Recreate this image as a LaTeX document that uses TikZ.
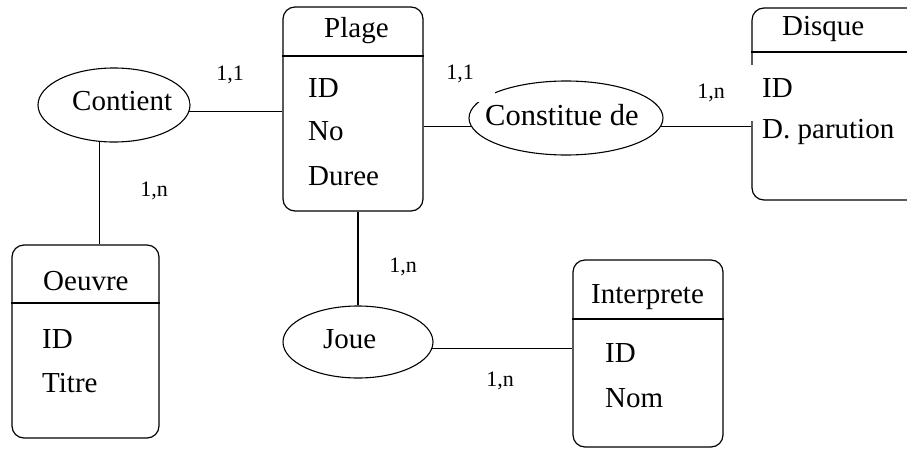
\documentclass[tikz,border=0pt]{standalone}
\usepackage{fontspec}
\setmainfont{Liberation Serif}
\usetikzlibrary{shapes.geometric}
\begin{document}
\begin{tikzpicture}[x=1pt,y=-1pt,
  ln/.style={line width=1.2pt},
  ent/.style={draw, line width=1.2pt, rounded corners=12pt, inner sep=0pt},
  rel/.style={draw, ellipse, line width=1.1pt, inner sep=0pt},
  txt/.style={anchor=base west, inner sep=0pt, font=\fontsize{29}{34}\selectfont},
  card/.style={fill=white, inner sep=0pt, minimum width=80pt, minimum height=56pt, font=\fontsize{22}{26}\selectfont}]
\useasboundingbox (0,0) rectangle (907,450);
\clip (0,0) rectangle (907,450);
% entity under the card
\node[ent, minimum width=173pt, minimum height=192pt] (disque) at (838.5,104) {};
\draw[ln] (disque.west |- 0,52) -- (disque.east |- 0,52);
\node[txt] (disqueT) at (782,35) {Disque};
\node[txt] (disqueA) at (762,97) {ID};
\node[txt] (disqueB) at (762,138) {D. parution};
% entities
\node[ent, minimum width=140pt, minimum height=204pt] (plage) at (353,109) {};
\draw[ln] (plage.west |- 0,56) -- (plage.east |- 0,56);
\node[txt] (plageT) at (324,37) {Plage};
\node[txt] (plageA) at (308,97) {ID};
\node[txt] (plageB) at (308,140) {No};
\node[txt] (plageC) at (308,185) {Duree};
\node[ent, minimum width=147pt, minimum height=193pt] (oeuvre) at (85.5,341.5) {};
\draw[ln] (oeuvre.west |- 0,303) -- (oeuvre.east |- 0,303);
\node[txt] (oeuvreT) at (43,290) {Oeuvre};
\node[txt] (oeuvreA) at (42,348) {ID};
\node[txt] (oeuvreB) at (42,392) {Titre};
\node[ent, minimum width=150pt, minimum height=187pt] (interp) at (648,353.5) {};
\draw[ln] (interp.west |- 0,319) -- (interp.east |- 0,319);
\node[txt] (interpT) at (591,303) {Interprete};
\node[txt] (interpA) at (605,362) {ID};
\node[txt] (interpB) at (605,407) {Nom};
% relations
\node[rel, minimum width=152pt, minimum height=74pt] (contient) at (114,105) {};
\node[txt] (contientT) at (72,110) {Contient};
\node[rel, minimum width=194pt, minimum height=74pt] (constitue) at (566,118) {};
\node[txt, font=\fontsize{30.5}{35}\selectfont] (constitueT) at (485,125) {Constitue de};
\node[rel, minimum width=150pt, minimum height=72pt] (joue) at (358,342) {};
\node[txt] (joueT) at (323,348) {Joue};
% connectors
\draw[ln] (contient.-5) -- (contient.-5 -| plage.west);
\draw[ln] (contient.249) -- (contient.249 |- oeuvre.north);
\draw[ln] (constitue.185.5) -- (constitue.185.5 -| plage.east);
\draw[ln] (constitue.-5.5) -- (constitue.-5.5 -| disque.west);
\draw[ln] (joue.north) -- (joue.north |- plage.south);
\draw[ln] (joue.-5) -- (joue.-5 -| interp.west);
% cardinalities
\node[card] (c1) at (230,75) {1,1};
\node[card] (c2) at (154,191) {1,n};
\node[card, minimum width=70pt] (c3) at (460,74) {1,1};
\node[card, minimum width=88pt] (c4) at (711,93) {1,n};
\node[card] (c5) at (403,267) {1,n};
\node[card] (c6) at (500,381) {1,n};
\end{tikzpicture}
\end{document}
